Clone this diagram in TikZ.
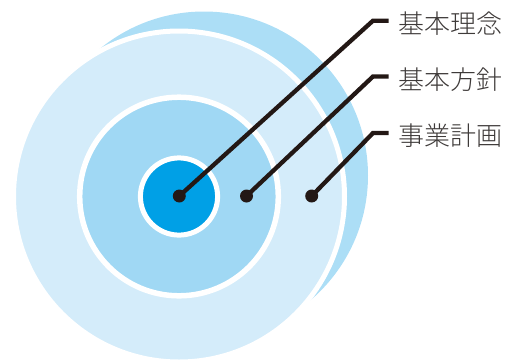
\documentclass[tikz,border=0pt]{standalone}
\usepackage{fontspec}
\newfontfamily\jpfont{Noto Sans CJK JP Light}
\definecolor{backblue}{RGB}{172,222,246}
\definecolor{frontblue}{RGB}{212,236,250}
\definecolor{midblue}{RGB}{160,216,244}
\definecolor{coreblue}{RGB}{0,160,230}
\definecolor{ink}{HTML}{231815}
\definecolor{txt}{HTML}{3E3A39}
\tikzset{
  dot/.style={circle,fill=ink,inner sep=0pt,minimum size=13pt},
  leader/.style={draw=ink,line width=4.3pt,line join=miter},
  label/.style={anchor=base west,inner sep=0pt,text=txt,font=\jpfont\fontsize{26pt}{26pt}\selectfont},
  ring/.style={draw=white}
}
\begin{document}
\begin{tikzpicture}[x=1pt,y=-1pt]
\useasboundingbox (0,0) rectangle (515,360);
% background circles
\fill[backblue] (204,175.5) circle[radius=164];
\filldraw[fill=frontblue,ring,line width=5pt] (179,196.5) circle[radius=165.5];
\filldraw[fill=midblue,ring,line width=5.5pt] (179,196.5) circle[radius=99.3];
\filldraw[fill=coreblue,ring,line width=5pt] (179,196.5) circle[radius=38.6];
% dots
\node[dot] (d1) at (179.3,196) {};
\node[dot] (d2) at (246.5,196) {};
\node[dot] (d3) at (311.7,196) {};
% corners and ends
\coordinate (c1) at (373,20.7);
\coordinate (c2) at (373,76.5);
\coordinate (c3) at (373,133);
\coordinate (e1) at (388.5,20.7);
\coordinate (e2) at (388.5,76.5);
\coordinate (e3) at (388.5,133);
\draw[leader] (d1.center) -- (c1) -- (e1);
\draw[leader] (d2.center) -- (c2) -- (e2);
\draw[leader] (d3.center) -- (c3) -- (e3);
% labels
\node[label] (t1) at (398,33.5) {基本理念};
\node[label] (t2) at (398,89.3) {基本方針};
\node[label] (t3) at (398,145.8) {事業計画};
\end{tikzpicture}
\end{document}
